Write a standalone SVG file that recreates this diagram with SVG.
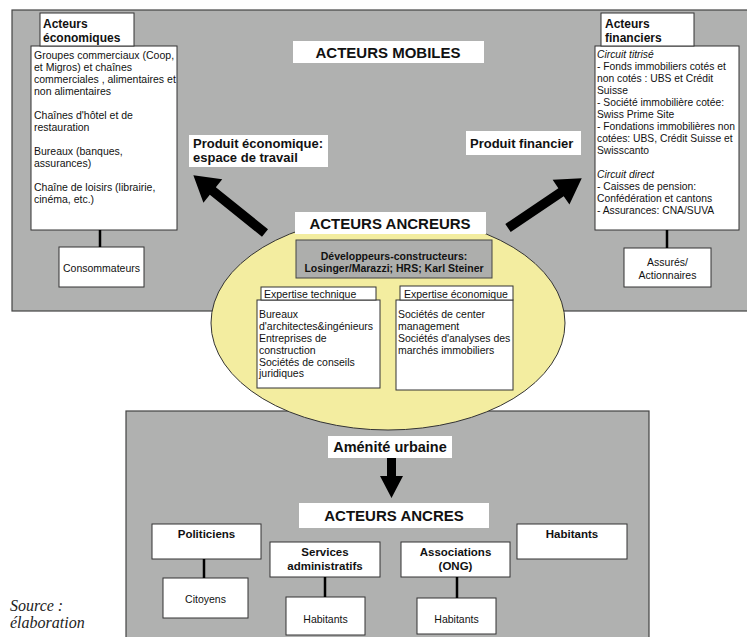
<svg xmlns="http://www.w3.org/2000/svg" width="747" height="637" viewBox="0 0 747 637">
<style>
text{font-family:"Liberation Sans",Arial,sans-serif;fill:#111}
.b{font-weight:bold}
.t{font-size:10.5px}
.tr{font-size:10.3px}
.h{font-size:12px;font-weight:bold}
.big{font-size:15px;font-weight:bold}
.lab{font-size:13px;font-weight:bold}
.nb{font-size:11.5px;font-weight:bold}
.box{fill:#fff;stroke:#333;stroke-width:1}
.wl{fill:#fff}
.gray{fill:#b0b1b0;stroke:#444;stroke-width:1.2}
.c{text-anchor:middle}
.link{stroke:#000;stroke-width:2.5}
.arr{fill:#000}
.src{font-family:"Liberation Serif","Times New Roman",serif;font-style:italic;font-size:16px;fill:#222}
</style>
<rect width="747" height="637" fill="#fff"/>
<g id="zone-mobiles">
<rect class="gray" x="12" y="10" width="760" height="301"/>
</g>
<g id="zone-ancres">
<rect class="gray" x="126" y="411" width="523" height="240"/>
</g>
<g id="label-mobiles">
<rect class="wl" x="293" y="41" width="191" height="22"/>
<text class="big c" x="388" y="57.5">ACTEURS MOBILES</text>
</g>
<g id="label-produit-eco">
<rect class="wl" x="189" y="135" width="139" height="32"/>
<text class="lab" x="193" y="147.5">Produit économique:</text>
<text class="lab" x="193" y="162">espace de travail</text>
</g>
<g id="label-produit-fin">
<rect class="wl" x="466" y="131" width="115" height="24"/>
<text class="lab" x="470" y="148">Produit financier</text>
</g>
<g id="acteurs-economiques">
<rect class="box" x="31" y="46" width="146" height="184"/>
<rect class="box" x="40" y="13" width="94" height="33"/>
<text class="h" x="43" y="28">Acteurs</text>
<text class="h" x="43" y="42">économiques</text>
<text class="t" x="34" y="59">Groupes commerciaux (Coop,</text>
<text class="t" x="34" y="71">et Migros) et chaînes</text>
<text class="t" x="34" y="83">commerciales , alimentaires et</text>
<text class="t" x="34" y="95">non alimentaires</text>
<text class="t" x="34" y="119">Chaînes d'hôtel et de</text>
<text class="t" x="34" y="131">restauration</text>
<text class="t" x="34" y="155">Bureaux (banques,</text>
<text class="t" x="34" y="167">assurances)</text>
<text class="t" x="34" y="191">Chaîne de loisirs (librairie,</text>
<text class="t" x="34" y="203">cinéma, etc.)</text>
</g>
<g id="consommateurs">
<rect class="box" x="59" y="247" width="85" height="40"/>
<text class="t c" x="101.5" y="271.5">Consommateurs</text>
</g>
<g id="acteurs-financiers">
<rect class="box" x="595" y="46" width="144" height="184"/>
<rect class="box" x="601" y="13" width="93" height="33"/>
<text class="h" x="605" y="28">Acteurs</text>
<text class="h" x="605" y="42">financiers</text>
<text class="tr" x="597" y="58" font-style="italic">Circuit titrisé</text>
<text class="tr" x="597" y="70">- Fonds immobiliers cotés et</text>
<text class="tr" x="597" y="82">non cotés : UBS et Crédit</text>
<text class="tr" x="597" y="94">Suisse</text>
<text class="tr" x="597" y="106">- Société immobilière cotée:</text>
<text class="tr" x="597" y="118">Swiss Prime Site</text>
<text class="tr" x="597" y="130">- Fondations immobilières non</text>
<text class="tr" x="597" y="142">cotées: UBS, Crédit Suisse et</text>
<text class="tr" x="597" y="154">Swisscanto</text>
<text class="tr" x="597" y="178" font-style="italic">Circuit direct</text>
<text class="tr" x="597" y="190">- Caisses de pension:</text>
<text class="tr" x="597" y="202">Confédération et cantons</text>
<text class="tr" x="597" y="214">- Assurances: CNA/SUVA</text>
</g>
<g id="assures">
<rect class="box" x="624" y="248" width="87" height="39"/>
<text class="t c" x="667.5" y="266">Assurés/</text>
<text class="t c" x="667.5" y="278.5">Actionnaires</text>
</g>
<g id="acteurs-ancreurs">
<ellipse cx="388" cy="323" rx="177" ry="107" fill="#f3eda0" stroke="#333" stroke-width="1"/>
<rect class="wl" x="295" y="212" width="191" height="22"/>
<text class="big c" x="390" y="228.5">ACTEURS ANCREURS</text>
</g>
<g id="developpeurs">
<rect x="296" y="240" width="196" height="38" fill="#adaeac" stroke="#444" stroke-width="1"/>
<text class="b t c" x="394" y="260">Développeurs-constructeurs:</text>
<text class="b t c" x="394" y="272">Losinger/Marazzi; HRS; Karl Steiner</text>
</g>
<g id="expertise-technique">
<rect class="box" x="257" y="300" width="123" height="88"/>
<rect class="box" x="261" y="287" width="115" height="13"/>
<text class="t" x="264" y="298">Expertise technique</text>
<text class="t" x="259" y="318">Bureaux</text>
<text class="t" x="259" y="330">d'architectes&amp;ingénieurs</text>
<text class="t" x="259" y="341.5">Entreprises de</text>
<text class="t" x="259" y="353.5">construction</text>
<text class="t" x="259" y="365.5">Sociétés de conseils</text>
<text class="t" x="259" y="377">juridiques</text>
</g>
<g id="expertise-economique">
<rect class="box" x="396" y="300" width="117" height="90"/>
<rect class="box" x="400" y="286" width="113" height="14"/>
<text class="t" x="404" y="297.5">Expertise économique</text>
<text class="t" x="398" y="318">Sociétés de center</text>
<text class="t" x="398" y="330">management</text>
<text class="t" x="398" y="341.5">Sociétés d'analyses des</text>
<text class="t" x="398" y="353.5">marchés immobiliers</text>
</g>
<g id="label-amenite">
<rect class="wl" x="328" y="436" width="124" height="22"/>
<text class="c" x="390" y="452" font-size="14.5" font-weight="bold">Aménité urbaine</text>
</g>
<g id="label-ancres">
<rect class="wl" x="299" y="503" width="190" height="25"/>
<text class="big c" x="394" y="521">ACTEURS ANCRES</text>
</g>
<g id="politiciens">
<rect class="box" x="152" y="524" width="109" height="35"/>
<text class="nb c" x="206.5" y="538">Politiciens</text>
</g>
<g id="citoyens">
<rect class="box" x="163" y="578" width="85" height="40"/>
<text class="t c" x="205.5" y="602.5">Citoyens</text>
</g>
<g id="services">
<rect class="box" x="270" y="542" width="110" height="35"/>
<text class="nb c" x="325" y="556">Services</text>
<text class="nb c" x="325" y="570">administratifs</text>
</g>
<g id="habitants-services">
<rect class="box" x="286" y="597" width="79" height="38"/>
<text class="t c" x="325.5" y="622.5">Habitants</text>
</g>
<g id="associations">
<rect class="box" x="401" y="542" width="109" height="35"/>
<text class="nb c" x="455.5" y="556">Associations</text>
<text class="nb c" x="455.5" y="570">(ONG)</text>
</g>
<g id="habitants-associations">
<rect class="box" x="417" y="598" width="79" height="36"/>
<text class="t c" x="456.5" y="622.5">Habitants</text>
</g>
<g id="habitants">
<rect class="box" x="517" y="524" width="110" height="35"/>
<text class="nb c" x="572" y="538">Habitants</text>
</g>
<g id="connectors">
<line class="link" x1="100" y1="230" x2="100" y2="247"/>
<line class="link" x1="667" y1="230" x2="667" y2="248"/>
<line class="link" x1="204" y1="559" x2="204" y2="578"/>
<line class="link" x1="325" y1="577" x2="325" y2="597"/>
<line class="link" x1="457" y1="577" x2="457" y2="598"/>
<path class="arr" transform="translate(265,233) rotate(218.85)" d="M0,-4.8 L67,-4.8 L67,-15 L92,0 L67,15 L67,4.8 L0,4.8 Z"/>
<path class="arr" transform="translate(508,228) rotate(-34.04)" d="M0,-4.8 L64,-4.8 L64,-15 L89,0 L64,15 L64,4.8 L0,4.8 Z"/>
<path class="arr" d="M387,458 L396,458 L396,476 L403,476 L391.5,498 L380,476 L387,476 Z"/>
</g>
<g id="source">
<text class="src" x="10" y="611">Source :</text>
<text class="src" x="10" y="628">élaboration</text>
<text class="src" x="10" y="645">propre</text>
</g>
</svg>
